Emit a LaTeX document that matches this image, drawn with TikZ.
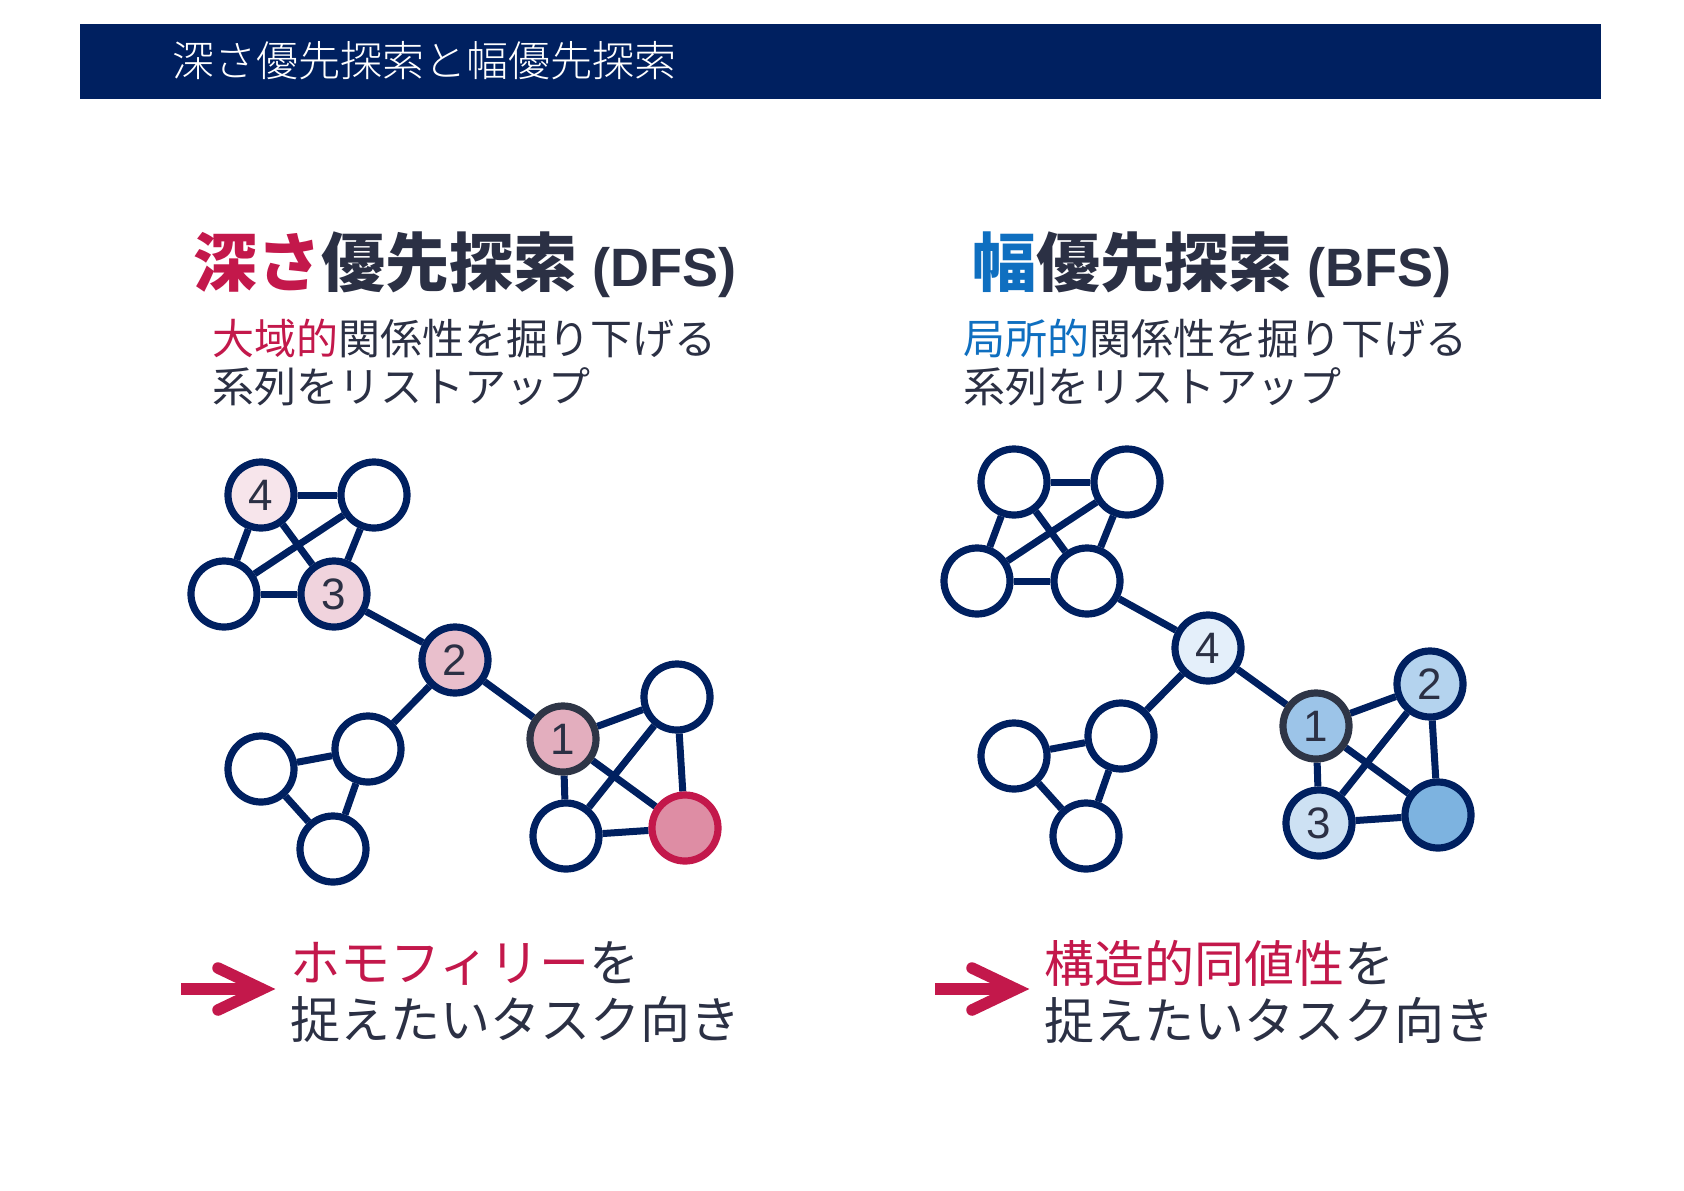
\documentclass[tikz,border=0pt]{standalone}
\usepackage{fontspec}
\usetikzlibrary{backgrounds}
\newfontfamily\jp{Noto Sans CJK JP}
\newfontfamily\jpl{Noto Sans CJK JP Light}
\newfontfamily\arial{Liberation Sans}
\definecolor{navy}{HTML}{002060}
\definecolor{txt}{HTML}{2B3044}
\definecolor{crim}{HTML}{C3184B}
\definecolor{blu}{HTML}{0F6FC0}
\definecolor{ring1}{HTML}{2E3546}
\definecolor{pfour}{HTML}{F7E5EB}
\definecolor{pthree}{HTML}{F0D3DD}
\definecolor{ptwo}{HTML}{E9BFCC}
\definecolor{pone}{HTML}{E3AEBE}
\definecolor{pred}{HTML}{DE8DA4}
\definecolor{bfour}{HTML}{E4EFFA}
\definecolor{bthree}{HTML}{CDE1F3}
\definecolor{btwo}{HTML}{B4D3EE}
\definecolor{bone}{HTML}{9CC4E8}
\definecolor{bdark}{HTML}{7DB3E0}
\tikzset{
  nd/.style={circle, draw=navy, line width=7.2pt, fill=white, minimum size=66pt, inner sep=0pt,
             font=\arial\fontsize{44}{44}\selectfont, text=txt},
  ed/.style={draw=navy, line width=7pt},
  arr/.style={draw=crim, line width=11.5pt},
  head/.style={anchor=west, inner sep=0pt, text=txt},
  sub/.style={anchor=west, inner sep=0pt, align=left, text=txt, font=\jp\fontsize{42}{48}\selectfont},
  bot/.style={anchor=west, inner sep=0pt, align=left, text=txt, font=\jp\fontsize{50}{57}\selectfont},
}
\begin{document}
\begin{tikzpicture}[x=1pt,y=-1pt]
\useasboundingbox (0,0) rectangle (1684,1191);
% title bar
\fill[navy] (80,24) rectangle (1601,99);
\node[anchor=west, inner sep=0pt, text=white, font=\jpl\fontsize{42}{42}\selectfont] (title) at (172,61) {深さ優先探索と幅優先探索};

% headings
\node[head] (hL) at (193,265) {\jp\bfseries\fontsize{64}{64}\selectfont\textcolor{crim}{深さ}優先探索\arial\fontsize{54}{54}\selectfont\ (DFS)};
\node[head] (hR) at (972,265) {\jp\bfseries\fontsize{64}{64}\selectfont\textcolor{blu}{幅}優先探索\arial\fontsize{54}{54}\selectfont\ (BFS)};

% subtitles
\node[sub] (sL) at (212,363) {\textcolor{crim}{大域的}関係性を掘り下げる\\系列をリストアップ};
\node[sub] (sR) at (963,363) {\textcolor{blu}{局所的}関係性を掘り下げる\\系列をリストアップ};

% left graph
\node[nd,fill=pfour] (L4) at (261,495) {4};
\node[nd] (Ltr) at (374,495) {};
\node[nd] (Ll) at (224,594) {};
\node[nd,fill=pthree] (L3) at (334,594) {3};
\node[nd,fill=ptwo] (L2) at (455,660) {2};
\node[nd,fill=pone,draw=ring1] (L1) at (563,739) {1};
\node[nd] (La) at (677,697) {};
\node[nd,fill=pred,draw=crim] (Lr) at (685,828) {};
\node[nd] (Lb) at (566,836) {};
\node[nd] (Lc) at (368,749) {};
\node[nd] (Ld) at (261,769) {};
\node[nd] (Le) at (333,849) {};

% right graph
\node[nd] (Rtl) at (1014,482) {};
\node[nd] (Rtr) at (1127,482) {};
\node[nd] (Rl) at (977,581) {};
\node[nd] (Rm) at (1087,581) {};
\node[nd,fill=bfour] (R4) at (1208,648) {4};
\node[nd,fill=bone,draw=ring1] (R1) at (1316,726) {1};
\node[nd,fill=btwo] (R2) at (1430,684) {2};
\node[nd,fill=bdark] (Rd) at (1438,815) {};
\node[nd,fill=bthree] (R3) at (1319,823) {3};
\node[nd] (Rc) at (1121,736) {};
\node[nd] (Re) at (1014,756) {};
\node[nd] (Rf) at (1086,836) {};

\begin{scope}[on background layer]
\fill[white] (0,0) rectangle (1684,1191);
\foreach \a/\b in {L4/Ltr, L4/Ll, L4/L3, Ltr/Ll, Ltr/L3, Ll/L3, L3/L2, L2/L1, L2/Lc, Lc/Ld, Ld/Le, Lc/Le,
                   L1/La, L1/Lr, L1/Lb, La/Lr, La/Lb, Lb/Lr,
                   Rtl/Rtr, Rtl/Rl, Rtl/Rm, Rtr/Rl, Rtr/Rm, Rl/Rm, Rm/R4, R4/R1, R4/Rc, Rc/Re, Re/Rf, Rc/Rf,
                   R1/R2, R1/Rd, R1/R3, R2/Rd, R2/R3, R3/Rd}
  \draw[ed] (\a) -- (\b);
\end{scope}

% arrows
\coordinate (aLs) at (181,989);
\coordinate (aLe) at (255,989);
\coordinate (aLt) at (262,989);
\coordinate (aLu) at (218,968);
\coordinate (aLd) at (218,1010);
\draw[arr] (aLs) -- (aLe);
\draw[arr, line cap=round, line join=miter] (aLu) -- (aLt) -- (aLd);
\coordinate (aRs) at (935,989);
\coordinate (aRe) at (1009,989);
\coordinate (aRt) at (1016,989);
\coordinate (aRu) at (972,968);
\coordinate (aRd) at (972,1010);
\draw[arr] (aRs) -- (aRe);
\draw[arr, line cap=round, line join=miter] (aRu) -- (aRt) -- (aRd);

% bottom texts
\node[bot] (bL) at (290,992) {\textcolor{crim}{ホモフィリー}を\\捉えたいタスク向き};
\node[bot] (bR) at (1044,992) {\textcolor{crim}{構造的同値性}を\\捉えたいタスク向き};
\end{tikzpicture}
\end{document}
